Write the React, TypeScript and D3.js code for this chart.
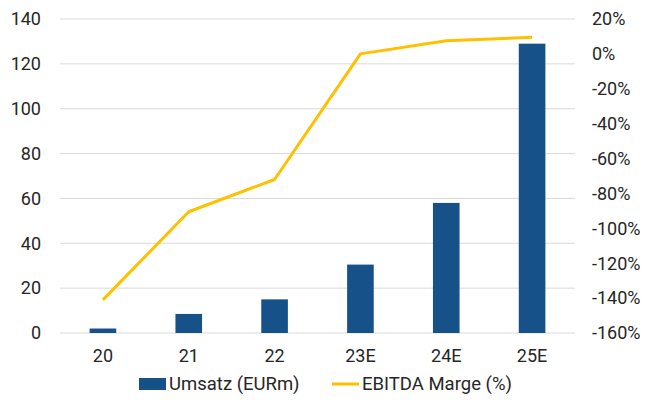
import React, { useEffect, useRef } from "react";
import * as d3 from "d3";

const categories = ["20", "21", "22", "23E", "24E", "25E"];
const umsatz = [2, 8.5, 15, 30.5, 58, 129];
const ebitdaMarge = [-141, -90.5, -72, 0, 7.5, 9.5];
const leftTicks = [0, 20, 40, 60, 80, 100, 120, 140];
const rightTicks = [20, 0, -20, -40, -60, -80, -100, -120, -140, -160];

const W = 646;
const H = 408;
const margin = { top: 19, right: 71, bottom: 75, left: 60 };

const App = () => {
  const ref = useRef<SVGSVGElement | null>(null);

  useEffect(() => {
    const svg = d3.select(ref.current);
    svg.selectAll("*").remove();

    const x = d3
      .scaleBand()
      .domain(categories)
      .range([margin.left, W - margin.right])
      .paddingInner(0.69)
      .paddingOuter(0.345);
    const y = d3.scaleLinear().domain([0, 140]).range([H - margin.bottom, margin.top]);
    const y2 = d3.scaleLinear().domain([-160, 20]).range([H - margin.bottom, margin.top]);

    const font = "Roboto, sans-serif";
    const txt = "#262626";
    const fs = "18px";

    // grid
    svg
      .append("g")
      .selectAll("line")
      .data(leftTicks)
      .join("line")
      .attr("x1", margin.left)
      .attr("x2", W - margin.right)
      .attr("y1", (d) => y(d))
      .attr("y2", (d) => y(d))
      .attr("stroke", "#d9d9d9")
      .attr("stroke-width", 1);

    // bars
    svg
      .append("g")
      .selectAll("rect")
      .data(umsatz)
      .join("rect")
      .attr("x", (_, i) => x(categories[i])!)
      .attr("width", x.bandwidth())
      .attr("y", (d) => y(d))
      .attr("height", (d) => y(0) - y(d))
      .attr("fill", "#16518a");

    // line
    const line = d3
      .line<number>()
      .x((_, i) => x(categories[i])! + x.bandwidth() / 2)
      .y((d) => y2(d));
    svg
      .append("path")
      .datum(ebitdaMarge)
      .attr("d", line)
      .attr("fill", "none")
      .attr("stroke", "#ffc000")
      .attr("stroke-width", 3)
      .attr("stroke-linejoin", "round");

    // left axis labels
    svg
      .append("g")
      .selectAll("text")
      .data(leftTicks)
      .join("text")
      .attr("x", 41)
      .attr("y", (d) => y(d))
      .attr("dy", "0.35em")
      .attr("text-anchor", "end")
      .style("font-family", font)
      .style("font-size", fs)
      .attr("fill", txt)
      .text((d) => d);

    // right axis labels
    svg
      .append("g")
      .selectAll("text")
      .data(rightTicks)
      .join("text")
      .attr("x", 592)
      .attr("y", (d) => y2(d))
      .attr("dy", "0.35em")
      .attr("text-anchor", "start")
      .style("font-family", font)
      .style("font-size", fs)
      .attr("fill", txt)
      .text((d) => `${d}%`);

    // category labels
    svg
      .append("g")
      .selectAll("text")
      .data(categories)
      .join("text")
      .attr("x", (d) => x(d)! + x.bandwidth() / 2)
      .attr("y", 356)
      .attr("dy", "0.35em")
      .attr("text-anchor", "middle")
      .style("font-family", font)
      .style("font-size", fs)
      .attr("fill", txt)
      .text((d) => d);

    // legend
    const lg = svg.append("g");
    lg.append("rect").attr("x", 139).attr("y", 378).attr("width", 27).attr("height", 12).attr("fill", "#16518a");
    lg.append("text")
      .attr("x", 169)
      .attr("y", 384)
      .attr("dy", "0.35em")
      .style("font-family", font)
      .style("font-size", "18.5px")
      .attr("fill", txt)
      .text("Umsatz (EURm)");
    lg.append("line")
      .attr("x1", 332)
      .attr("x2", 359)
      .attr("y1", 384)
      .attr("y2", 384)
      .attr("stroke", "#ffc000")
      .attr("stroke-width", 3);
    lg.append("text")
      .attr("x", 362)
      .attr("y", 384)
      .attr("dy", "0.35em")
      .style("font-family", font)
      .style("font-size", "18.5px")
      .attr("fill", txt)
      .text("EBITDA Marge (%)");
  }, []);

  return (
    <svg
      ref={ref}
      width={W}
      height={H}
      style={{ position: "absolute", left: 0, top: 0, background: "#fff" }}
    />
  );
};

export default App;
